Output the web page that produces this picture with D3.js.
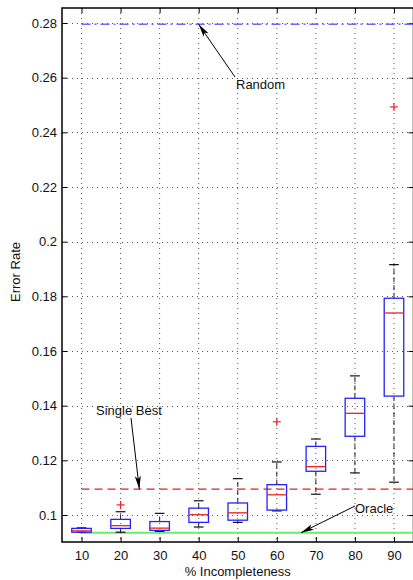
<!DOCTYPE html>
<html><head><meta charset="utf-8">
<script src="https://cdn.jsdelivr.net/npm/d3@7"></script>
<style>body{margin:0;background:#fff}svg{display:block}text{font-family:"Liberation Sans",Arial,sans-serif;fill:#111}</style>
</head><body>
<svg id="c" width="413" height="580"></svg>
<script>
const categories = [10,20,30,40,50,60,70,80,90];
const q1      = [0.0937,0.0951,0.0944,0.0973,0.0981,0.1018,0.1160,0.1288,0.1435];
const median  = [0.0942,0.0961,0.0952,0.1001,0.1008,0.1074,0.1177,0.1372,0.1739];
const q3      = [0.0951,0.0984,0.0976,0.1025,0.1044,0.1111,0.1251,0.1427,0.1793];
const whiskLo = [0.0937,0.0937,0.0940,0.0956,0.0973,0.1015,0.1076,0.1154,0.1120];
const whiskHi = [0.0953,0.1012,0.1006,0.1052,0.1133,0.1194,0.1278,0.1509,0.1916];
const outliers = [[20,0.1037],[60,0.1341],[90,0.2493]];
const refLines = [
  {name:"Random", value:0.2795},
  {name:"Single Best", value:0.1095},
  {name:"Oracle", value:0.0935}
];
const yTicks = [0.1,0.12,0.14,0.16,0.18,0.2,0.22,0.24,0.26,0.28];

const svg = d3.select("#c");
const L=62, R=413.5, T=8, B=542;
const x = d3.scaleLinear().domain([5,95]).range([L,R]);
const y = d3.scaleLinear().domain([0.1,0.28]).range([515,23]);

// grid
const g = svg.append("g");
g.selectAll(".gx").data(categories).enter().append("line")
  .attr("x1",d=>x(d)).attr("x2",d=>x(d)).attr("y1",T).attr("y2",B)
  .attr("stroke","#555").attr("stroke-width",1).attr("stroke-dasharray","1,4");
g.selectAll(".gy").data(yTicks).enter().append("line")
  .attr("x1",L).attr("x2",R).attr("y1",d=>Math.round(y(d))+0.5).attr("y2",d=>Math.round(y(d))+0.5)
  .attr("stroke","#555").attr("stroke-width",1).attr("stroke-dasharray","1,4");

// axes
const fmt = d=>d3.format("")(+d.toFixed(2));
const ax = svg.append("g").attr("transform",`translate(0,${B})`)
  .call(d3.axisBottom(x).tickValues(categories).tickSize(-5).tickPadding(9));
const axT = svg.append("g").attr("transform",`translate(0,${T})`)
  .call(d3.axisTop(x).tickValues(categories).tickSize(-5).tickFormat(""));
const ay = svg.append("g").attr("transform",`translate(${L},0)`)
  .call(d3.axisLeft(y).tickValues(yTicks).tickSize(-5).tickPadding(5).tickFormat(fmt));
const ayR = svg.append("g").attr("transform",`translate(${R},0)`)
  .call(d3.axisRight(y).tickValues(yTicks).tickSize(-5).tickFormat(""));
[ax,axT,ay,ayR].forEach(a=>{a.select(".domain").remove();a.selectAll("line").attr("stroke","#000");
  a.selectAll("text").attr("font-size","13px").attr("fill","#111").style("font-family","'Liberation Sans',Arial,sans-serif");});
svg.append("rect").attr("x",L).attr("y",T).attr("width",R-L).attr("height",B-T)
  .attr("fill","none").attr("stroke","#000").attr("stroke-width",1.5);

// reference lines
const x0 = x(10);
svg.append("line").attr("x1",x0).attr("x2",R).attr("y1",y(refLines[0].value)).attr("y2",y(refLines[0].value))
  .attr("stroke","#6b6bff").attr("stroke-width",1.5).attr("stroke-dasharray","9,4,2,4");
svg.append("line").attr("x1",x0).attr("x2",R).attr("y1",y(refLines[1].value)).attr("y2",y(refLines[1].value))
  .attr("stroke","#e02020").attr("stroke-width",1.2).attr("stroke-dasharray","8,5");
svg.append("line").attr("x1",x0).attr("x2",R).attr("y1",y(refLines[2].value)).attr("y2",y(refLines[2].value))
  .attr("stroke","#66ee66").attr("stroke-width",2);

// boxes
const bw = x(7.5)-x(5); // half box width
const cw = bw/2;
const data = categories.map((c,i)=>({c,q1:q1[i],m:median[i],q3:q3[i],lo:whiskLo[i],hi:whiskHi[i]}));
const bx = svg.append("g").selectAll("g").data(data).enter().append("g");
bx.append("line").attr("x1",d=>x(d.c)).attr("x2",d=>x(d.c)).attr("y1",d=>y(d.q3)).attr("y2",d=>y(d.hi))
  .attr("stroke","#222").attr("stroke-width",1).attr("stroke-dasharray","5,3");
bx.append("line").attr("x1",d=>x(d.c)).attr("x2",d=>x(d.c)).attr("y1",d=>y(d.q1)).attr("y2",d=>y(d.lo))
  .attr("stroke","#222").attr("stroke-width",1).attr("stroke-dasharray","5,3");
bx.append("line").attr("x1",d=>x(d.c)-cw).attr("x2",d=>x(d.c)+cw).attr("y1",d=>y(d.hi)).attr("y2",d=>y(d.hi))
  .attr("stroke","#111").attr("stroke-width",1.2);
bx.append("line").attr("x1",d=>x(d.c)-cw).attr("x2",d=>x(d.c)+cw).attr("y1",d=>y(d.lo)).attr("y2",d=>y(d.lo))
  .attr("stroke","#111").attr("stroke-width",1.2);
bx.append("rect").attr("x",d=>x(d.c)-bw).attr("width",2*bw).attr("y",d=>y(d.q3)).attr("height",d=>y(d.q1)-y(d.q3))
  .attr("fill","none").attr("stroke","#2222ff").attr("stroke-width",1.3);
bx.append("line").attr("x1",d=>x(d.c)-bw).attr("x2",d=>x(d.c)+bw).attr("y1",d=>y(d.m)).attr("y2",d=>y(d.m))
  .attr("stroke","#ee2222").attr("stroke-width",1.3);

// outliers
const og = svg.append("g").selectAll("g").data(outliers).enter().append("g")
  .attr("transform",d=>`translate(${x(d[0])},${y(d[1])})`);
og.append("line").attr("x1",-4).attr("x2",4).attr("stroke","#ee2222").attr("stroke-width",1.2);
og.append("line").attr("y1",-4).attr("y2",4).attr("stroke","#ee2222").attr("stroke-width",1.2);

// annotations
svg.append("defs").append("marker").attr("id","ah").attr("viewBox","0 0 13 6").attr("refX",13).attr("refY",3)
  .attr("markerWidth",13).attr("markerHeight",6).attr("markerUnits","userSpaceOnUse").attr("orient","auto")
  .append("path").attr("d","M0,0 L13,3 L0,6 L3,3 Z").attr("fill","#000");
const ann = [
  {t:refLines[0].name, tx:236, ty:89, ax1:235, ay1:77, ax2:x(40), ay2:y(refLines[0].value)},
  {t:refLines[1].name, tx:96, ty:415, ax1:131, ay1:418, ax2:x(24.8), ay2:y(refLines[1].value)},
  {t:refLines[2].name, tx:355, ty:513, ax1:355, ay1:506, ax2:x(66.2), ay2:y(refLines[2].value)}
];
ann.forEach(a=>{
  svg.append("line").attr("x1",a.ax1).attr("y1",a.ay1).attr("x2",a.ax2).attr("y2",a.ay2)
    .attr("stroke","#000").attr("stroke-width",1).attr("marker-end","url(#ah)");
  svg.append("text").attr("x",a.tx).attr("y",a.ty).attr("font-size","13px").text(a.t);
});

// axis labels
svg.append("text").attr("x",x(50)).attr("y",576).attr("text-anchor","middle").attr("font-size","13px").text("% Incompleteness");
svg.append("text").attr("transform",`translate(20,272) rotate(-90)`).attr("text-anchor","middle")
  .attr("font-size","13px").text("Error Rate");
</script>
</body></html>
